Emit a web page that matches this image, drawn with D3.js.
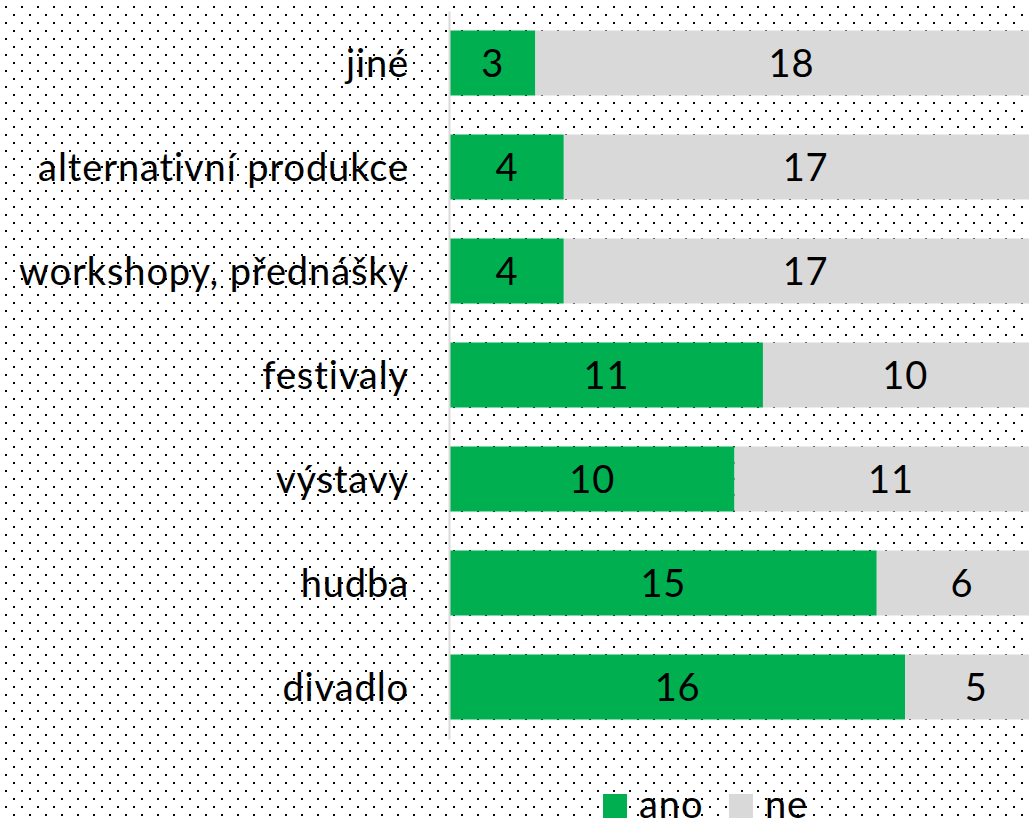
<!DOCTYPE html>
<html><head><meta charset="utf-8">
<script src="https://cdn.jsdelivr.net/npm/d3@7"></script>
<style>html,body{margin:0;padding:0;background:#fff;}svg{display:block;}</style>
</head><body>
<svg id="chart" width="1029" height="822"></svg>
<script>
const categories = ["jiné","alternativní produkce","workshopy, přednášky","festivaly","výstavy","hudba","divadlo"];
const ano = [3,4,4,11,10,15,16];
const ne = [18,17,17,10,11,6,5];
const seriesNames = ["ano","ne"];
const colors = ["#00b050","#d9d9d9"];

const W = 1029, H = 822;
const svg = d3.select("#chart");
const defs = svg.append("defs");
const pat = defs.append("pattern").attr("id","dots").attr("patternUnits","userSpaceOnUse")
  .attr("width",16).attr("height",16);
pat.append("rect").attr("x",5).attr("y",6).attr("width",2).attr("height",2).attr("fill","#000");
pat.append("rect").attr("x",13).attr("y",14).attr("width",2).attr("height",2).attr("fill","#000");
svg.append("rect").attr("width",W).attr("height",H).attr("fill","#fff");
svg.append("rect").attr("width",W).attr("height",H).attr("fill","url(#dots)");

const x0 = 450;
const x = d3.scaleLinear().domain([0,21]).range([x0, x0 + 21*28.45]);
const y = d3.scaleBand().domain(categories).range([11,739]).paddingInner(0.375).paddingOuter(0.1875);

const font = "Lato, 'Open Sans', sans-serif";
const fs = "38px", ls = "0.9px";
const data = categories.map((c,i)=>({cat:c, ano:ano[i], ne:ne[i]}));
const stack = d3.stack().keys(seriesNames)(data);

const g = svg.append("g");
stack.forEach((s,si)=>{
  g.selectAll(null).data(s).enter().append("rect")
    .attr("x",d=>x(d[0])).attr("width",d=>x(d[1])-x(d[0]))
    .attr("y",d=>y(d.data.cat)).attr("height",y.bandwidth())
    .attr("fill",colors[si]);
  g.selectAll(null).data(s).enter().append("text")
    .attr("x",d=>(x(d[0])+x(d[1]))/2).attr("y",d=>y(d.data.cat)+y.bandwidth()/2)
    .attr("dy","0.36em").attr("text-anchor","middle")
    .style("font-family",font).style("font-size",fs).style("letter-spacing",ls).attr("fill","#000")
    .text(d=>d[1]-d[0]);
});

// axis
const axis = d3.axisLeft(y).tickSize(0).tickPadding(40);
const ax = svg.append("g").attr("transform",`translate(${x0-1},0)`).call(axis);
ax.select(".domain").attr("stroke","#d9d9d9").attr("stroke-width",2);
ax.selectAll("text").style("font-family",font).style("font-size",fs).style("letter-spacing",ls).attr("fill","#000").attr("dy","0.36em");

// legend
const leg = svg.append("g");
seriesNames.forEach((n,i)=>{
  const lx = [603,729][i];
  leg.append("rect").attr("x",lx).attr("y",794).attr("width",24).attr("height",24).attr("fill",colors[i]);
  leg.append("text").attr("x",lx+36).attr("y",818)
    .style("font-family",font).style("font-size",fs).style("letter-spacing",ls).attr("fill","#000").text(n);
});
</script>
</body></html>
